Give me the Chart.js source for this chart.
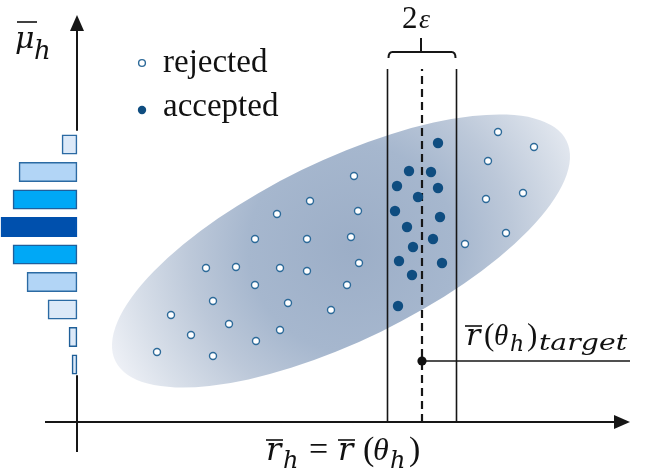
<!DOCTYPE html>
<html>
<head>
<meta charset="utf-8">
<script src="https://cdn.jsdelivr.net/npm/chart.js@4/dist/chart.umd.min.js"></script>
<style>
  html, body { margin: 0; padding: 0; background: #ffffff; overflow: hidden; }
  canvas { display: block; }
</style>
</head>
<body>
<canvas id="abc" width="646" height="475"></canvas>
<script>
// ABC rejection sketch: simulated summary statistic r̄ (x) against mean μ̄ (y), arbitrary units.

// Simulations that fall outside the 2ε band
const rejectedX = [27.7, 23.3, 28.1, 20.0, 17.8, 23.0, 27.4, 12.9, 15.9, 20.3, 23.0, 28.2, 17.8, 27.0,
                   13.6, 21.1, 25.4, 9.4, 15.2, 20.3, 11.4, 17.9, 8.0, 13.6,
                   42.1, 45.7, 41.1, 44.6, 40.9, 42.9, 38.8];
const rejectedY = [24.6, 22.1, 21.1, 20.8, 18.3, 18.3, 18.5, 15.4, 15.5, 15.4, 15.1, 15.9, 13.7, 13.7,
                   12.1, 11.9, 11.2, 10.7, 9.8, 9.2, 8.7, 8.1, 7.0, 6.6,
                   29.0, 27.5, 26.1, 22.9, 22.3, 18.9, 17.8];

// Simulations kept inside the band
const acceptedX = [36.1, 33.2, 35.4, 32.0, 36.1, 34.1, 31.8, 36.3, 33.0, 35.6, 33.6, 32.2, 36.5, 33.5, 32.1];
const acceptedY = [27.9, 25.1, 25.0, 23.6, 23.4, 22.5, 21.1, 20.5, 19.5, 18.3, 17.5, 16.1, 15.9, 14.7, 11.6];

// Target statistic and tolerance
const targetR = 34.5;
const targetMu = 6.1;
const epsilon = 3.45;
const bandTop = 35.3;
const targetLineEnd = 55.3;

// Posterior histogram of μ̄ (drawn leftwards from the axis)
const histBins = [27.75, 25.0, 22.25, 19.5, 16.75, 14.0, 11.25, 8.5, 5.75];
const histCounts = [1.5, 5.8, 6.4, 7.6, 6.4, 5.0, 2.9, 0.8, 0.5];
const histShades = ['#dce9f8', '#b2d5f6', '#00a8f6', '#0050ad', '#00a8f6', '#b2d5f6', '#dce9f8', '#dce9f8', '#dce9f8'];
const histEdges = ['#2b6aa3', '#2b6aa3', '#1e5f9c', '#0050ad', '#1e5f9c', '#2b6aa3', '#2b6aa3', '#1f5f98', '#1f5f98'];

// Prior cloud (rotated ellipse) in data units
const cloudCx = 26.4, cloudCy = 17.1, cloudA = 25.1, cloudB = 9.0, cloudTilt = 26;
const glowCx = 27.5, glowCy = 17.4, glowR = 26.0;

// Axis extents
const xAxisFrom = -3.2, xAxisTo = 55.3;
const yAxisFrom = -3.0, yAxisTo = 40.7;

const INK = '#161616';
const SERIF = '"Liberation Serif", "Times New Roman", serif';
const MATH = '"DejaVu Serif", "Liberation Serif", serif';

function toPoints(xs, ys) { return xs.map((x, i) => ({ x: x, y: ys[i] })); }

const sketch = {
  id: 'sketch',
  beforeDraw(chart) {
    const ctx = chart.ctx;
    ctx.save();
    ctx.fillStyle = '#ffffff';
    ctx.fillRect(0, 0, chart.width, chart.height);
    ctx.restore();
  },
  beforeDatasetsDraw(chart) {
    const ctx = chart.ctx, xs = chart.scales.x, ys = chart.scales.y;
    const u = xs.getPixelForValue(1) - xs.getPixelForValue(0);
    const cx = xs.getPixelForValue(cloudCx), cy = ys.getPixelForValue(cloudCy);
    const gx = xs.getPixelForValue(glowCx), gy = ys.getPixelForValue(glowCy);
    ctx.save();
    ctx.beginPath();
    ctx.ellipse(cx, cy, cloudA * u, cloudB * u, -cloudTilt * Math.PI / 180, 0, Math.PI * 2);
    const g = ctx.createRadialGradient(gx, gy, 0, gx, gy, glowR * u);
    g.addColorStop(0, 'rgb(156,174,199)');
    g.addColorStop(0.4, 'rgb(166,183,206)');
    g.addColorStop(0.62, 'rgb(188,200,217)');
    g.addColorStop(0.85, 'rgb(216,223,233)');
    g.addColorStop(1, 'rgb(236,239,245)');
    ctx.fillStyle = g;
    ctx.fill();
    ctx.restore();
  },
  afterDatasetsDraw(chart) {
    const ctx = chart.ctx, xs = chart.scales.x, ys = chart.scales.y;
    const X = v => xs.getPixelForValue(v), Y = v => ys.getPixelForValue(v);
    const step = histBins[0] - histBins[1];
    ctx.save();
    ctx.strokeStyle = INK;
    ctx.fillStyle = INK;
    ctx.lineWidth = 2;
    ctx.lineCap = 'butt';

    // x axis with arrow
    ctx.beginPath();
    ctx.moveTo(X(xAxisFrom), Y(0));
    ctx.lineTo(X(xAxisTo) - 12, Y(0));
    ctx.stroke();
    ctx.beginPath();
    ctx.moveTo(X(xAxisTo), Y(0));
    ctx.lineTo(X(xAxisTo) - 16, Y(0) - 7);
    ctx.lineTo(X(xAxisTo) - 16, Y(0) + 7);
    ctx.closePath();
    ctx.fill();

    // y axis with arrow, interrupted by the histogram
    const gapTop = Y(histBins[0] + step / 2);
    const gapBot = Y(histBins[histBins.length - 1] - step / 2) - 3;
    ctx.beginPath();
    ctx.moveTo(X(0), Y(yAxisTo) + 12);
    ctx.lineTo(X(0), gapTop);
    ctx.moveTo(X(0), gapBot);
    ctx.lineTo(X(0), Y(yAxisFrom));
    ctx.stroke();
    ctx.beginPath();
    ctx.moveTo(X(0), Y(yAxisTo));
    ctx.lineTo(X(0) - 7, Y(yAxisTo) + 16);
    ctx.lineTo(X(0) + 7, Y(yAxisTo) + 16);
    ctx.closePath();
    ctx.fill();

    // 2ε bracket above the band
    const bl = X(targetR - epsilon), br = X(targetR + epsilon), bm = X(targetR);
    const by = Y(bandTop) - 17;
    ctx.lineWidth = 2;
    ctx.beginPath();
    ctx.moveTo(bl + 1, by + 6);
    ctx.quadraticCurveTo(bl + 1, by, bl + 5, by);
    ctx.lineTo(br - 5, by);
    ctx.quadraticCurveTo(br - 1, by, br - 1, by + 6);
    ctx.moveTo(bm - 1, by);
    ctx.lineTo(bm - 1, by - 14);
    ctx.stroke();

    // legend
    ctx.textBaseline = 'alphabetic';
    ctx.textAlign = 'left';
    const lx = X(6.5);
    ctx.beginPath();
    ctx.arc(lx, Y(35.9), 3.4, 0, Math.PI * 2);
    ctx.fillStyle = '#ffffff';
    ctx.fill();
    ctx.lineWidth = 1.4;
    ctx.strokeStyle = '#2d6a99';
    ctx.stroke();
    ctx.beginPath();
    ctx.arc(lx, Y(31.2), 4.2, 0, Math.PI * 2);
    ctx.fillStyle = '#0f4d80';
    ctx.fill();
    ctx.fillStyle = '#111111';
    ctx.font = '33px ' + SERIF;
    ctx.fillText('rejected', 163, 72);
    ctx.fillText('accepted', 163, 116);

    // math labels
    ctx.fillStyle = '#111111';
    ctx.strokeStyle = '#111111';
    ctx.lineWidth = 1.6;
    const bar = (x1, x2, y) => { ctx.beginPath(); ctx.moveTo(x1, y); ctx.lineTo(x2, y); ctx.stroke(); };
    const put = (t, font, x, y) => { ctx.font = font; ctx.fillText(t, x, y); };

    // μ̄_h
    put('μ', 'italic 30px ' + MATH, 15, 48);
    bar(17, 37, 22);
    put('h', 'italic 26px ' + MATH, 34, 59);

    // 2ε
    put('2', '31px ' + SERIF, 402, 28);
    put('ε', 'italic 28px ' + SERIF, 419, 28);

    // r̄_h = r̄ (θ_h)
    const b0 = 266, bb = 460;
    put('r', 'italic 32px ' + MATH, b0, bb);
    bar(b0, b0 + 17, 440);
    put('h', 'italic 24px ' + MATH, b0 + 17, bb + 8);
    put('=', '34px ' + SERIF, b0 + 43, bb);
    put('r', 'italic 32px ' + MATH, b0 + 72, bb);
    bar(b0 + 72, b0 + 89, 440);
    put('(', '34px ' + SERIF, b0 + 97, bb);
    put('θ', 'italic 32px ' + SERIF, b0 + 107, bb);
    put('h', 'italic 24px ' + MATH, b0 + 124, bb + 8);
    put(')', '34px ' + SERIF, b0 + 143, bb);

    // r̄(θ_h)_target
    const t0 = 466, tb = 345;
    put('r', 'italic 30px ' + MATH, t0, tb);
    bar(t0 - 1, t0 + 16, 326);
    put('(', '31px ' + SERIF, t0 + 18, tb);
    put('θ', 'italic 29px ' + SERIF, t0 + 28, tb);
    put('h', 'italic 22px ' + MATH, t0 + 44, tb + 6);
    put(')', '31px ' + SERIF, t0 + 61, tb);
    ctx.font = 'italic 22px ' + MATH;
    const tw = ctx.measureText('target').width;
    ctx.save();
    ctx.translate(t0 + 73, tb + 5);
    ctx.scale(88 / tw, 1);
    ctx.fillText('target', 0, 0);
    ctx.restore();

    ctx.restore();
  }
};

const lineStyle = { showLine: true, fill: false, tension: 0, pointRadius: 0, borderColor: INK, order: 1 };

new Chart(document.getElementById('abc'), {
  type: 'scatter',
  data: {
    datasets: [
      {
        label: 'accepted',
        data: toPoints(acceptedX, acceptedY),
        pointRadius: 5.2,
        pointBackgroundColor: '#0f4d80',
        pointBorderWidth: 0,
        order: 0
      },
      {
        label: 'rejected',
        data: toPoints(rejectedX, rejectedY),
        pointRadius: 3.5,
        pointBackgroundColor: '#ffffff',
        pointBorderColor: '#2d6a99',
        pointBorderWidth: 1.4,
        order: 0
      },
      Object.assign({}, lineStyle, {
        type: 'line',
        label: 'target',
        data: [{ x: targetR, y: targetMu }, { x: targetLineEnd, y: targetMu }],
        borderWidth: 1.5,
        pointRadius: [4.6, 0],
        pointBackgroundColor: '#111111',
        pointBorderWidth: 0
      }),
      Object.assign({}, lineStyle, {
        type: 'line',
        label: 'lower bound',
        data: [{ x: targetR - epsilon, y: 0 }, { x: targetR - epsilon, y: bandTop }],
        borderWidth: 1.6
      }),
      Object.assign({}, lineStyle, {
        type: 'line',
        label: 'upper bound',
        data: [{ x: targetR + epsilon, y: 0 }, { x: targetR + epsilon, y: bandTop }],
        borderWidth: 1.6
      }),
      Object.assign({}, lineStyle, {
        type: 'line',
        label: 'target value',
        data: [{ x: targetR, y: 0 }, { x: targetR, y: bandTop }],
        borderWidth: 2.2,
        borderDash: [8, 5]
      }),
      {
        type: 'bar',
        label: 'posterior',
        indexAxis: 'y',
        data: histBins.map((b, i) => ({ x: [-histCounts[i], 0], y: b })),
        backgroundColor: histShades,
        borderColor: histEdges,
        borderWidth: 1.6,
        borderSkipped: false,
        barThickness: 19.5,
        order: 2
      }
    ]
  },
  options: {
    responsive: false,
    devicePixelRatio: 1,
    animation: false,
    events: [],
    layout: { padding: 0, autoPadding: false },
    scales: {
      x: { type: 'linear', display: false, min: -7.7, max: 56.9, offset: false },
      y: { type: 'linear', display: false, min: -5.3, max: 42.2, offset: false }
    },
    plugins: { legend: { display: false }, tooltip: { enabled: false } }
  },
  plugins: [sketch]
});
</script>
</body>
</html>
